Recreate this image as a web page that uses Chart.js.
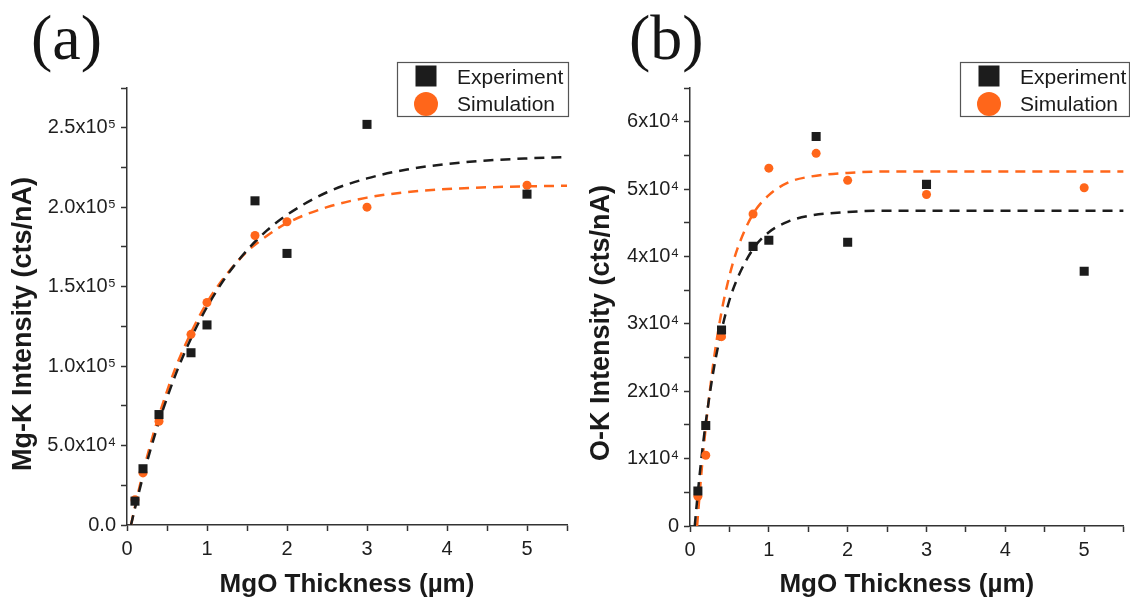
<!DOCTYPE html>
<html>
<head>
<meta charset="utf-8">
<script src="https://cdn.jsdelivr.net/npm/chart.js@4.4.1/dist/chart.umd.min.js"></script>
<style>
  html, body { margin: 0; padding: 0; background: #ffffff; }
  #wrap { position: relative; width: 1130px; height: 603px; overflow: hidden; background: #ffffff; }
  canvas { position: absolute; top: 0; }
  #panelA { left: 0; }
  #panelB { left: 575px; }
</style>
</head>
<body>
<div id="wrap">
  <canvas id="panelA" width="575" height="603"></canvas>
  <canvas id="panelB" width="555" height="603"></canvas>
</div>
<script>
// MgO film thickness (µm) of the measured samples
const thickness = [0.1, 0.2, 0.4, 0.8, 1.0, 1.6, 2.0, 3.0, 5.0];

// Mg-K intensity (cts/nA)
const mgExperiment = [1.50e4, 3.54e4, 6.95e4, 1.084e5, 1.259e5, 2.04e5, 1.709e5, 2.521e5, 2.082e5];
const mgSimulation = [1.59e4, 3.28e4, 6.53e4, 1.20e5, 1.40e5, 1.822e5, 1.908e5, 2.00e5, 2.138e5];

// O-K intensity (cts/nA)
const oExperiment = [5.2e3, 1.49e4, 2.91e4, 4.15e4, 4.24e4, 5.78e4, 4.21e4, 5.07e4, 3.78e4];
const oSimulation = [4.4e3, 1.05e4, 2.81e4, 4.63e4, 5.31e4, 5.53e4, 5.13e4, 4.92e4, 5.02e4];

// Saturation fit curves, sampled along thickness
const mgFitX      = [0.05, 0.1, 0.2, 0.3, 0.4, 0.6, 0.8, 1.0, 1.25, 1.5, 1.75, 2.0, 2.5, 3.0, 3.5, 4.0, 4.5, 5.0, 5.5];
const mgExpFit    = [0, 1.06e4, 3.05e4, 4.85e4, 6.5e4, 9.37e4, 1.174e5, 1.372e5, 1.571e5, 1.729e5, 1.854e5, 1.952e5, 2.094e5, 2.181e5, 2.237e5, 2.272e5, 2.294e5, 2.307e5, 2.316e5];
const mgSimFit    = [0, 1.16e4, 3.3e4, 5.2e4, 6.9e4, 9.8e4, 1.21e5, 1.40e5, 1.58e5, 1.72e5, 1.82e5, 1.90e5, 2.00e5, 2.06e5, 2.095e5, 2.114e5, 2.125e5, 2.131e5, 2.135e5];

const oExpFitX    = [0.06, 0.1, 0.15, 0.2, 0.3, 0.4, 0.5, 0.6, 0.8, 1.0, 1.25, 1.5, 2.0, 2.5, 3.0, 4.0, 5.0, 5.5];
const oExpFit     = [0, 5.0e3, 1.06e4, 1.54e4, 2.32e4, 2.90e4, 3.35e4, 3.67e4, 4.11e4, 4.36e4, 4.52e4, 4.60e4, 4.66e4, 4.68e4, 4.68e4, 4.68e4, 4.68e4, 4.68e4];
const oSimFitX    = [0.09, 0.1, 0.15, 0.2, 0.3, 0.4, 0.5, 0.6, 0.8, 1.0, 1.25, 1.5, 2.0, 2.5, 3.0, 4.0, 5.0, 5.5];
const oSimFit     = [0, 1.5e3, 8.6e3, 1.47e4, 2.45e4, 3.18e4, 3.71e4, 4.11e4, 4.63e4, 4.91e4, 5.10e4, 5.18e4, 5.24e4, 5.26e4, 5.26e4, 5.26e4, 5.26e4, 5.26e4];

// Tick labels
const xTickLabels  = ['0', '1', '2', '3', '4', '5'];
const mgTickLabels = ['0.0', '5.0x10\u2074', '1.0x10\u2075', '1.5x10\u2075', '2.0x10\u2075', '2.5x10\u2075'];
const oTickLabels  = ['0', '1x10\u2074', '2x10\u2074', '3x10\u2074', '4x10\u2074', '5x10\u2074', '6x10\u2074'];

const BLACK = '#1c1c1c';
const ORANGE = '#ff661a';
const AXIS = '#333333';
const SANS = '"Liberation Sans", Arial, Helvetica, sans-serif';

function pts(xs, ys) { return xs.map((x, i) => ({ x: x, y: ys[i] })); }

function pointSet(label, ys, color, style, radius) {
  return {
    label: label, data: pts(thickness, ys), showLine: false,
    pointStyle: style, pointRadius: radius, pointHoverRadius: radius,
    backgroundColor: color, borderColor: color, pointBorderWidth: 0,
    inLegend: true, order: 0
  };
}

function fitSet(xs, ys, color) {
  return {
    label: 'fit', data: pts(xs, ys), showLine: true, pointRadius: 0,
    borderColor: color, borderWidth: 2.5, borderDash: [10, 7],
    cubicInterpolationMode: 'monotone', fill: false,
    inLegend: false, order: 1
  };
}

// Panel decorations: letter, axis titles and boxed legend
const decor = {
  id: 'decor',
  afterDraw(chart, args, o) {
    const ctx = chart.ctx, area = chart.chartArea;
    ctx.save();
    ctx.fillStyle = '#151515';
    ctx.font = '64px "Liberation Serif", "Times New Roman", serif';
    ctx.textAlign = 'left';
    ctx.textBaseline = 'alphabetic';
    ctx.fillText(o.letter, o.letterX, 59);

    ctx.fillStyle = '#1a1a1a';
    ctx.textAlign = 'center';
    ctx.textBaseline = 'middle';
    ctx.font = 'bold 26px ' + SANS;
    ctx.fillText(o.xTitle, (area.left + area.right) / 2, 585);
    ctx.font = 'bold 27px ' + SANS;
    ctx.save();
    ctx.translate(o.yTitleX, o.yTitleY);
    ctx.rotate(-Math.PI / 2);
    ctx.fillText(o.yTitle, 0, 0);
    ctx.restore();

    // legend box
    const b = o.box;
    ctx.fillStyle = '#ffffff';
    ctx.fillRect(b.x, b.y, b.w, b.h);
    ctx.strokeStyle = '#555555';
    ctx.lineWidth = 1.2;
    ctx.strokeRect(b.x + 0.5, b.y + 0.5, b.w, b.h);
    const entries = chart.data.datasets.filter(d => d.inLegend);
    ctx.font = '21px ' + SANS;
    ctx.textAlign = 'left';
    ctx.textBaseline = 'alphabetic';
    entries.forEach((d, i) => {
      const cy = b.y + 14 + i * 27;
      const cx = b.x + 29;
      ctx.fillStyle = d.backgroundColor;
      if (d.pointStyle === 'rect') {
        ctx.fillRect(cx - 10.5, cy - 10.5, 21, 21);
      } else {
        ctx.beginPath();
        ctx.arc(cx, cy + 1, 12, 0, Math.PI * 2);
        ctx.fill();
      }
      ctx.fillStyle = '#1a1a1a';
      ctx.fillText(d.label, b.x + 60, cy + 7.5);
    });
    ctx.restore();
  }
};

function makeChart(id, cfg) {
  return new Chart(document.getElementById(id), {
    type: 'scatter',
    data: { datasets: cfg.datasets },
    options: {
      responsive: false,
      animation: false,
      devicePixelRatio: 1,
      layout: { padding: { left: 0, top: 88, right: cfg.padRight, bottom: 0 } },
      plugins: {
        legend: { display: false },
        tooltip: { enabled: false },
        decor: cfg.decor
      },
      scales: {
        x: {
          type: 'linear', min: 0, max: 5.5,
          afterFit(s) { s.height = cfg.xHeight; },
          border: { display: true, color: AXIS, width: 1.5 },
          grid: { drawOnChartArea: false, drawTicks: true, tickLength: 6, tickColor: AXIS, tickWidth: 1.5 },
          ticks: {
            stepSize: 0.5, autoSkip: false, maxRotation: 0, padding: 6,
            color: '#1e1e1e', font: { family: SANS, size: 20 },
            callback(v) {
              const k = Math.round(v);
              return Math.abs(v - k) < 1e-6 ? (xTickLabels[k] || '') : '';
            }
          }
        },
        y: {
          type: 'linear', min: 0, max: cfg.yMax,
          afterFit(s) { s.width = cfg.yWidth; },
          border: { display: true, color: AXIS, width: 1.5 },
          grid: { drawOnChartArea: false, drawTicks: true, tickLength: 6, tickColor: AXIS, tickWidth: 1.5 },
          ticks: {
            stepSize: cfg.yStep / 2, autoSkip: false, padding: 5,
            color: '#1e1e1e', font: { family: SANS, size: 20 },
            callback(v) {
              const k = Math.round(v / cfg.yStep);
              return Math.abs(v / cfg.yStep - k) < 1e-6 ? (cfg.yLabels[k] || '') : '';
            }
          }
        }
      }
    },
    plugins: [decor]
  });
}

makeChart('panelA', {
  datasets: [
    pointSet('Experiment', mgExperiment, BLACK, 'rect', 6.4),
    pointSet('Simulation', mgSimulation, ORANGE, 'circle', 4.5),
    fitSet(mgFitX, mgExpFit, BLACK),
    fitSet(mgFitX, mgSimFit, ORANGE)
  ],
  yMax: 2.75e5, yStep: 5e4, yLabels: mgTickLabels,
  yWidth: 127, xHeight: 78, padRight: 8,
  decor: {
    letter: '(a)', letterX: 31,
    xTitle: 'MgO Thickness (\u00b5m)',
    yTitle: 'Mg-K Intensity (cts/nA)', yTitleX: 24, yTitleY: 324,
    box: { x: 397, y: 62, w: 171, h: 54 }
  }
});

makeChart('panelB', {
  datasets: [
    pointSet('Experiment', oExperiment, BLACK, 'rect', 6.4),
    pointSet('Simulation', oSimulation, ORANGE, 'circle', 4.5),
    fitSet(oExpFitX, oExpFit, BLACK),
    fitSet(oSimFitX, oSimFit, ORANGE)
  ],
  yMax: 6.5e4, yStep: 1e4, yLabels: oTickLabels,
  yWidth: 115, xHeight: 77, padRight: 0,
  decor: {
    letter: '(b)', letterX: 54,
    xTitle: 'MgO Thickness (\u00b5m)',
    yTitle: 'O-K Intensity (cts/nA)', yTitleX: 27, yTitleY: 323,
    box: { x: 385, y: 62, w: 169, h: 54 }
  }
});
</script>
</body>
</html>
